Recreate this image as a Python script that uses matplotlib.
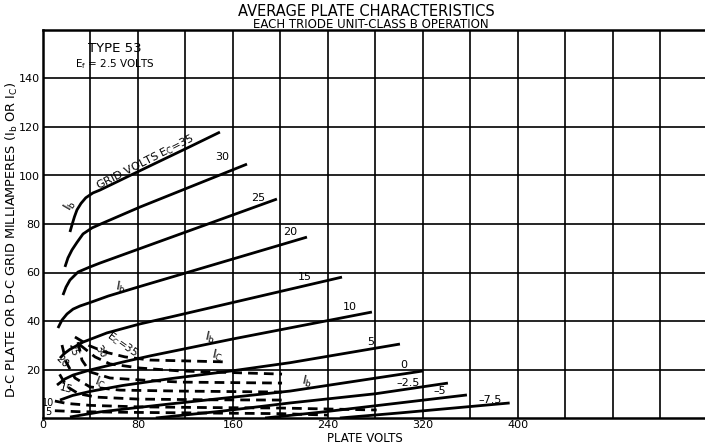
import matplotlib
matplotlib.use("Agg")
import matplotlib.pyplot as plt

# plate volts / milliamperes, one pair of lists per curve
ib35_v = [22.7, 24.4, 26.5, 28.6, 32, 36, 42, 48, 75.8, 100, 121.3, 149]
ib35_i = [76.7, 79.6, 83, 85.8, 88.5, 90.8, 92.8, 94.0, 100.6, 106.3, 111.3, 117.9]
ib30_v = [18.5, 21, 24.4, 28.6, 33.7, 41.3, 50.5, 81.7, 171.8]
ib30_i = [62.3, 66, 69.3, 72.4, 75.9, 78.4, 80.4, 87.0, 104.7]
ib25_v = [16.8, 19.4, 22.7, 29.5, 39.6, 48, 197]
ib25_i = [50.7, 54, 56.9, 60.2, 62.3, 63.9, 90.3]
ib20_v = [12.6, 16, 20.2, 25.3, 31.2, 39.6, 55, 80, 222.3]
ib20_i = [37.1, 40.4, 42.9, 44.9, 46.2, 47.6, 50.3, 54.0, 74.6]
ib15_v = [14.3, 18, 22.7, 33.7, 53.9, 81.7, 107, 251.8]
ib15_i = [24.7, 26.6, 28.3, 31.3, 35.1, 38.8, 41.6, 58.1]
ib10_v = [11.8, 18.5, 25.3, 39.6, 67.4, 90.1, 160, 277]
ib10_i = [13.6, 16.1, 17.7, 19.8, 23.1, 25.6, 32.6, 43.7]
ib5_v = [14.3, 25, 40, 67, 107, 160, 208, 300.6]
ib5_i = [7.4, 9.3, 11, 13.4, 16.2, 19.5, 22.8, 30.5]
ib0_v = [22.7, 48, 75.8, 107, 208, 320]
ib0_i = [0.4, 2.5, 4.1, 5.8, 11.1, 19.4]
ibm25_v = [95, 150, 208, 280, 341]
ibm25_i = [0, 2.8, 6.2, 10, 14.4]
ibm5_v = [187, 235.8, 300, 357]
ibm5_i = [0, 2.5, 6.2, 9.5]
ibm75_v = [250, 300.6, 393]
ibm75_i = [0, 2.1, 6.2]

ic35_v = [26.9, 39.6, 52.2, 69, 90, 123.8, 155.8]
ic35_i = [33.4, 29.7, 27.2, 25.2, 23.9, 23.5, 23.1]
ic30_v = [31.2, 43.8, 56.4, 81.7, 115.4, 201.3]
ic30_i = [30.1, 25.2, 22.3, 20.6, 19.4, 18.1]
ic25_v = [29.5, 32.8, 39.6, 56.4, 81.7, 115.4, 201.3]
ic25_i = [31.3, 23.9, 19, 16.5, 15.7, 14.8, 14.4]
ic20_v = [16, 19.4, 26.9, 39.6, 64.8, 115.4, 201.3]
ic20_i = [30.1, 23.1, 16.5, 12.8, 11.5, 11.1, 10.7]
ic15_v = [14, 20, 30, 45, 80, 140, 201]
ic15_i = [18, 13, 10, 8.6, 7.8, 7.5, 7.4]
ic10_v = [10, 20, 40, 80, 140, 201, 281]
ic10_i = [7, 6, 5.2, 4.6, 4.3, 4.1, 3.3]
ic5_v = [10, 30, 80, 150, 200, 240]
ic5_i = [3, 2.6, 2.3, 2.0, 1.8, 1.2]

x_ticks = [0, 80, 160, 240, 320, 400]
y_ticks = [20, 40, 60, 80, 100, 120, 140]

W, H = 705, 445
fig = plt.figure(figsize=(W / 100, H / 100), dpi=100)
ax = fig.add_axes([43 / W, 27 / H, (W - 43) / W, 388 / H])
ax.set_xlim(0, 557.5)
ax.set_ylim(0, 160)

def px(x, y):
    return x / W, 1 - y / H

# grid every 40 volts and 20 mA
for v in range(40, 560, 40):
    ax.axvline(v, color='black', lw=1.2, zorder=1)
for i in range(20, 160, 20):
    ax.axhline(i, color='black', lw=1.2, zorder=1)

for s in ['left', 'bottom', 'top']:
    ax.spines[s].set_linewidth(1.8)
ax.spines['right'].set_visible(False)

ax.set_xticks(x_ticks)
ax.set_yticks(y_ticks)
ax.tick_params(length=0, labelsize=8)
ax.tick_params(axis='x', pad=1.5)
ax.tick_params(axis='y', pad=2)

plates = [(ib35_v, ib35_i), (ib30_v, ib30_i), (ib25_v, ib25_i), (ib20_v, ib20_i),
          (ib15_v, ib15_i), (ib10_v, ib10_i), (ib5_v, ib5_i), (ib0_v, ib0_i),
          (ibm25_v, ibm25_i), (ibm5_v, ibm5_i), (ibm75_v, ibm75_i)]
for v, i in plates:
    ax.plot(v, i, color='black', lw=2, solid_capstyle='butt', zorder=3)

grids = [(ic35_v, ic35_i), (ic30_v, ic30_i), (ic25_v, ic25_i), (ic20_v, ic20_i),
         (ic15_v, ic15_i), (ic10_v, ic10_i), (ic5_v, ic5_i)]
for v, i in grids:
    ax.plot(v, i, color='black', lw=2, ls=(0, (3.5, 2.2)), zorder=3)

IB = r'$\mathregular{I_b}$'
IC = r'$\mathregular{I_C}$'
EC = r'$\mathregular{E_C}$'

# curve labels (data coords)
curve_labels = [('30', 150.7, 107.6), ('25', 181, 90.7), ('20', 208, 76.7),
                ('15', 220.6, 58.1), ('10', 258.5, 45.8), ('5', 276.2, 31.3),
                ('0', 304, 21.9), ('-2.5', 307.4, 14.4), ('-5', 334.3, 11.1),
                ('-7.5', 376.4, 7.4)]
for t, x, y in curve_labels:
    ax.text(x, y, t.replace('-', '\u2013'), fontsize=8, ha='center', va='center', zorder=4)

ax.text(85.9, 105.6, 'GRID VOLTS ' + EC + '=35', fontsize=8, rotation=27,
        ha='center', va='center', rotation_mode='anchor')
ax.text(22.7, 87.8, IB, fontsize=9, rotation=60, ha='center', va='center')
ax.text(65.7, 54, IB, fontsize=9, rotation=-10, ha='center', va='center')
ax.text(140.6, 33, IB, fontsize=9, rotation=-12, ha='center', va='center')
ax.text(222.3, 14.8, IB, fontsize=9, rotation=-12, ha='center', va='center')
ax.text(146.5, 25.6, IC, fontsize=9, rotation=-12, ha='center', va='center')
ax.text(48, 14.4, IC, fontsize=9, rotation=-20, ha='center', va='center')

ax.text(66.5, 30.5, EC + '=35', fontsize=7.5, rotation=-35, ha='center', va='center')
ax.text(48, 27.2, '30', fontsize=7.5, rotation=-55, ha='center', va='center')
ax.text(25.3, 28, '25', fontsize=7.5, rotation=-75, ha='center', va='center')
ax.text(16, 23.1, '20', fontsize=7.5, rotation=-45, ha='center', va='center')
ax.text(19.4, 12, '15', fontsize=7.5, rotation=-15, ha='center', va='center')
ax.text(4.2, 6.2, '10', fontsize=7, ha='center', va='center')
ax.text(4.2, 2.5, '5', fontsize=7, ha='center', va='center')

fig.text(*px(115, 49), 'TYPE 53', fontsize=9.5, ha='center', va='center')
fig.text(*px(115, 64), r'$\mathregular{E_f}$ = 2.5 VOLTS', fontsize=7.5, ha='center', va='center')

fig.text(*px(366, 11), 'AVERAGE PLATE CHARACTERISTICS', fontsize=10.5, ha='center', va='center')
fig.text(*px(371, 25), 'EACH TRIODE UNIT-CLASS B OPERATION', fontsize=8.5, ha='center', va='center')
fig.text(*px(365, 438), 'PLATE VOLTS', fontsize=8.5, ha='center', va='center')
fig.text(*px(12, 240), 'D-C PLATE OR D-C GRID MILLIAMPERES (' + IB + ' OR ' + IC + ')',
         fontsize=9.3, rotation=90, ha='center', va='center')

fig.savefig('out.png', dpi=100, facecolor='white')
